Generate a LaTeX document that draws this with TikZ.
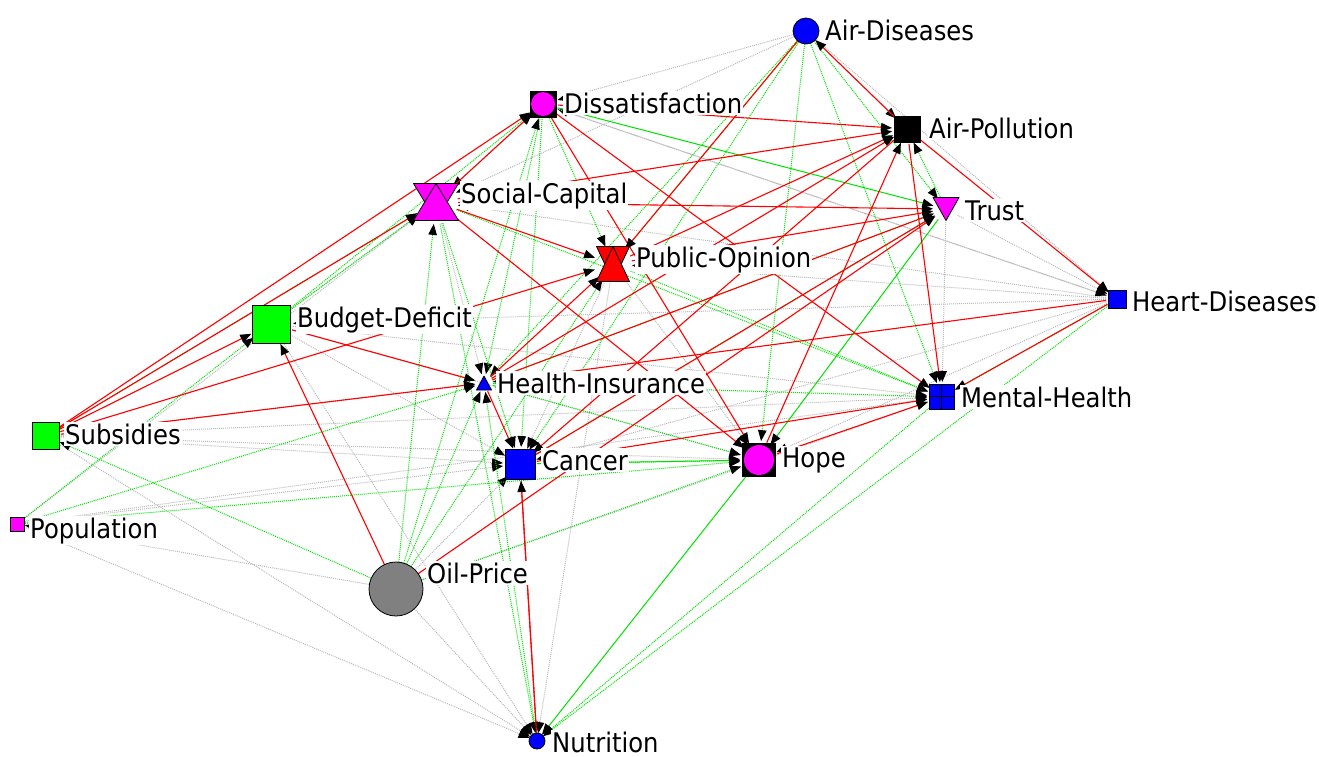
\documentclass[tikz,border=0pt]{standalone}
\usepackage{fontspec}
\setmainfont{DejaVu Sans}[FakeStretch=0.9]
\usetikzlibrary{calc,arrows.meta,positioning}
\definecolor{linkRed}{RGB}{255,0,0}
\definecolor{linkGreen}{RGB}{0,225,0}
\definecolor{linkGray}{RGB}{185,185,185}
\definecolor{nodeMagenta}{RGB}{255,0,255}
\definecolor{nodeBlue}{RGB}{0,0,255}
\definecolor{nodeLime}{RGB}{0,255,0}
\definecolor{nodeStone}{RGB}{128,128,128}
\newcommand{\SqMark}[3]{%
  \filldraw[fill=#2,draw=black,line width=0.8pt] ($(#1)+(-#3/2,-#3/2)$) rectangle ($(#1)+(#3/2,#3/2)$);}
\newcommand{\HourMark}[4]{%
  \filldraw[fill=#2,draw=black,line width=0.8pt,line join=round] ($(#1)+(-#3/2,-#4/2)$) -- ($(#1)+(#3/2,-#4/2)$) -- ($(#1)+(0,#4/2)$) -- cycle;
  \filldraw[fill=#2,draw=black,line width=0.8pt,line join=round] ($(#1)+(-#3/2,#4/2)$) -- ($(#1)+(#3/2,#4/2)$) -- ($(#1)+(0,-#4/2)$) -- cycle;}
\newcommand{\TriMark}[5]{%
  \filldraw[fill=#2,draw=black,line width=0.8pt,line join=round] ($(#1)+(-#3/2,#5*#4/2)$) -- ($(#1)+(#3/2,#5*#4/2)$) -- ($(#1)+(0,-#5*#4/2)$) -- cycle;}

\begin{document}
\begin{tikzpicture}[x=1pt,y=-1pt,
  hub/.style={circle,draw=none,inner sep=0pt,outer sep=0pt},
  tag/.style={anchor=base west,fill=white,inner xsep=1pt,inner ysep=1.5pt,font=\fontsize{27}{27}\selectfont},
  redlink/.style={draw=linkRed,line width=1.1pt,-{Triangle[length=11pt,width=8.5pt,color=black]}},
  greenlink/.style={draw=linkGreen,line width=1pt,densely dotted,-{Triangle[length=11pt,width=8.5pt,color=black]}},
  greensolid/.style={draw=linkGreen,line width=1pt,-{Triangle[length=11pt,width=8.5pt,color=black]}},
  graylink/.style={draw=linkGray,line width=1pt,densely dotted,-{Triangle[length=11pt,width=8.5pt,color=black]}}]
\useasboundingbox (0,0) rectangle (1319,756);

\node[hub,minimum size=26pt] (AD) at (806,31) {};
\node[hub,minimum size=30pt] (DS) at (543,104) {};
\node[hub,minimum size=30pt] (AP) at (907,129) {};
\node[hub,minimum size=44pt] (SC) at (436,202) {};
\node[hub,minimum size=26pt] (TR) at (946,209) {};
\node[hub,minimum size=38pt] (PO) at (613,264) {};
\node[hub,minimum size=22pt] (HD) at (1117,299) {};
\node[hub,minimum size=44pt] (BD) at (271,324) {};
\node[hub,minimum size=18pt] (HI) at (484,383) {};
\node[hub,minimum size=30pt] (MH) at (942,397) {};
\node[hub,minimum size=30pt] (SU) at (46,436) {};
\node[hub,minimum size=34pt] (CA) at (520,464) {};
\node[hub,minimum size=38pt] (HO) at (759,460) {};
\node[hub,minimum size=16pt] (PP) at (17,524) {};
\node[hub,minimum size=54pt] (OP) at (396,589) {};
\node[hub,minimum size=16pt] (NU) at (537,741) {};

\foreach \s/\t in {AD/DS,AD/SC,AD/HD,AD/AP,HD/SC,HD/PO,HD/DS,HD/CA,HD/HO,HD/BD,TR/MH,TR/HD,
  SU/CA,SU/HO,SU/MH,SU/NU,PP/CA,PP/MH,PP/NU,PP/SC,OP/PP,BD/CA,BD/HO,BD/MH,BD/NU,
  OP/NU,OP/CA,OP/MH,DS/HD,SC/HI,PO/CA,PO/NU,BD/SC,SU/HI,PO/HO,DS/SC}
  \draw[graylink] (\s) -- (\t);
\foreach \s/\t in {AD/PO,AD/HI,AD/CA,AD/HO,AD/MH,AD/TR,DS/HI,DS/CA,OP/DS,OP/SC,OP/HI,OP/PO,
  OP/HO,SC/CA,SC/NU,OP/SU,PP/HI,PP/BD,PP/HO,HD/NU,MH/NU,HD/MH,TR/AP,HI/MH,HI/HO,BD/SC,
  NU/HI,PO/MH,SC/MH,HI/TR,DS/PO,CA/HO,SU/SC,CA/TR,BD/DS}
  \draw[greenlink] (\s) -- (\t);
\foreach \s/\t in {DS/TR,CA/HO,HO/NU,TR/HO}
  \draw[greensolid] (\s) -- (\t);
\foreach \s/\t in {SU/DS,SU/SC,SU/BD,SU/PO,SU/HI,BD/HI,OP/BD,OP/TR,HI/CA,CA/NU,NU/CA,HI/PO,
  HI/AP,SC/PO,SC/HO,SC/AP,SC/TR,SC/DS,DS/MH,DS/AP,DS/HO,AD/PO,AP/AD,AP/CA,AP/MH,AP/HD,
  HO/AP,HO/MH,CA/MH,HD/HI,HD/MH,PO/TR,HI/TR,CA/TR,PO/AP}
  \draw[redlink] (\s) -- (\t);

\node[tag] (ADl) at (824,40) {Air-Diseases};
\node[tag] (DSl) at (563,113) {Dissatisfaction};
\node[tag] (APl) at (928,138) {Air-Pollution};
\node[tag] (SCl) at (460,203) {Social-Capital};
\node[tag] (TRl) at (964,220) {Trust};
\node[tag] (POl) at (635,267) {Public-Opinion};
\node[tag] (HDl) at (1131,311) {Heart-Diseases};
\node[tag] (BDl) at (296,327) {Budget-Deficit};
\node[tag] (HIl) at (496,393) {Health-Insurance};
\node[tag] (MHl) at (960,407) {Mental-Health};
\node[tag] (SUl) at (64,444) {Subsidies};
\node[tag] (CAl) at (541,470) {Cancer};
\node[tag] (HOl) at (781,467) {Hope};
\node[tag] (PPl) at (29,538) {Population};
\node[tag] (OPl) at (426,583) {Oil-Price};
\node[tag] (NUl) at (551,752) {Nutrition};

\filldraw[fill=nodeBlue,draw=black,line width=0.8pt] (AD) circle (13);
\SqMark{DS}{black}{26}
\fill[nodeMagenta] (DS) circle (12);
\SqMark{AP}{black}{26}
\HourMark{SC}{nodeMagenta}{45}{37}
\TriMark{TR}{nodeMagenta}{26}{23}{-1}
\HourMark{PO}{red}{33}{35}
\SqMark{HD}{nodeBlue}{18}
\SqMark{BD}{nodeLime}{38}
\TriMark{HI}{nodeBlue}{15}{14}{1}
\SqMark{MH}{nodeBlue}{25}
\draw[line width=1.2pt] (929.5,396.5) -- (954.5,396.5);
\draw[line width=1.2pt] (941.5,384.5) -- (941.5,409.5);
\SqMark{SU}{nodeLime}{27}
\SqMark{CA}{nodeBlue}{30}
\SqMark{HO}{black}{33}
\fill[nodeMagenta] (HO) circle (15);
\SqMark{PP}{nodeMagenta}{14}
\filldraw[fill=nodeStone,draw=black,line width=0.8pt] (OP) circle (27);
\filldraw[fill=nodeBlue,draw=black,line width=0.8pt] (NU) circle (8);
\end{tikzpicture}
\end{document}
